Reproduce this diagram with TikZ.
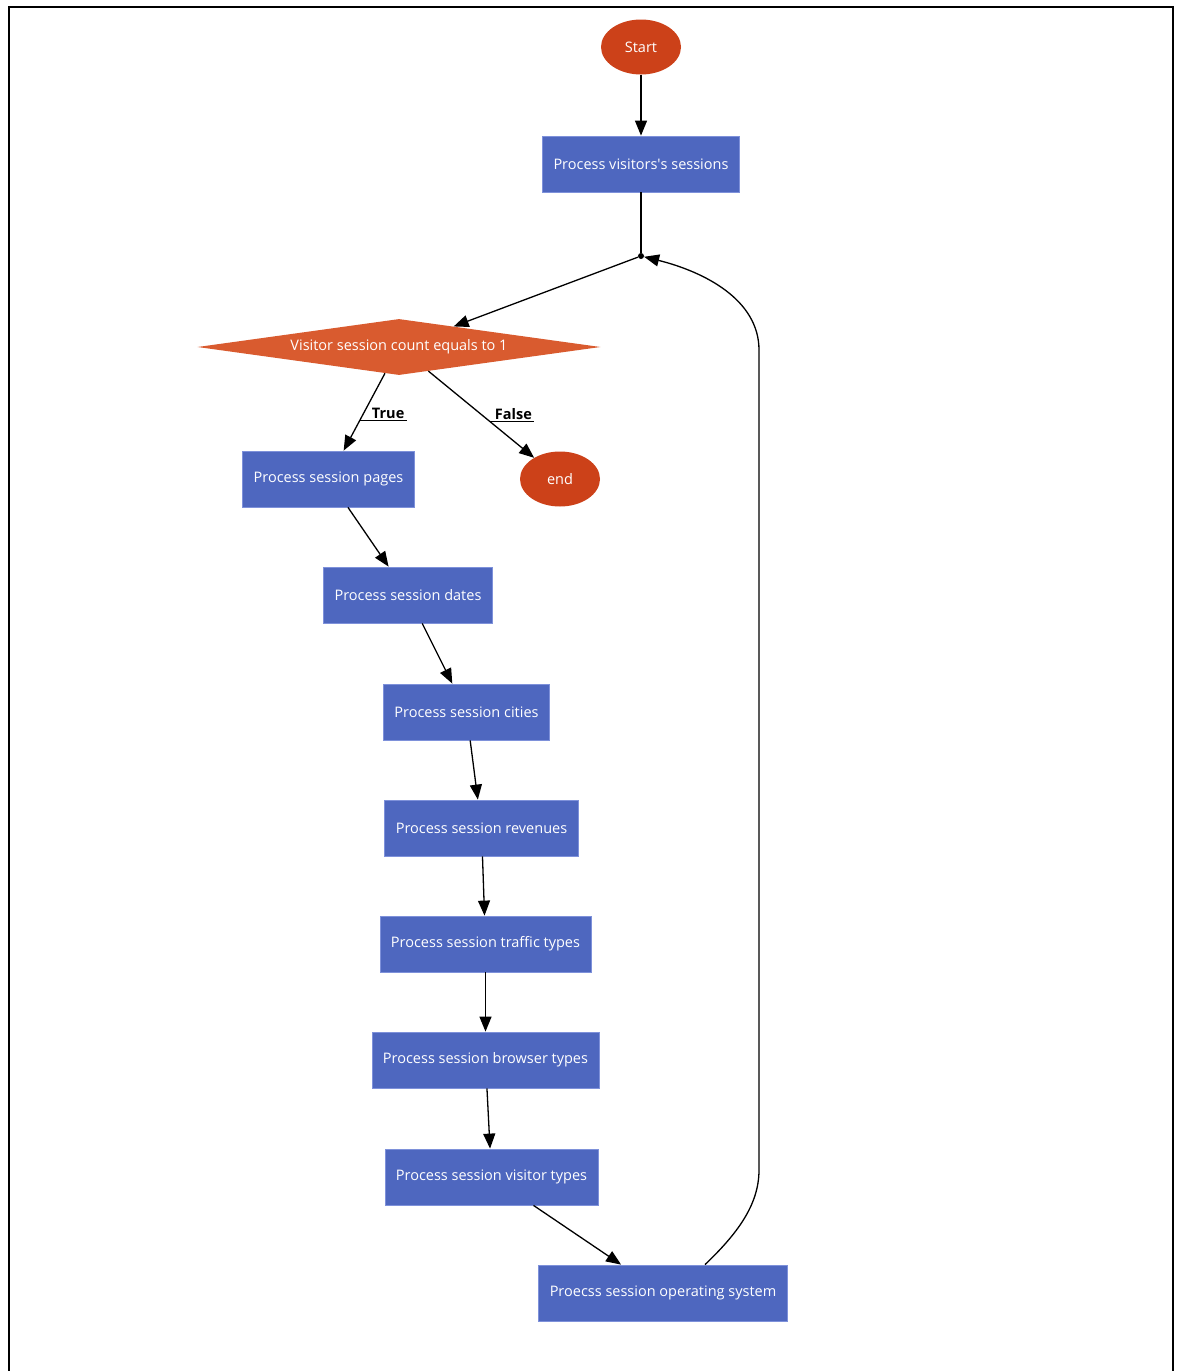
\documentclass[tikz,border=0pt]{standalone}
\usepackage{fontspec}
\setmainfont{Open Sans}
\usetikzlibrary{shapes.geometric,arrows.meta}
\definecolor{boxblue}{HTML}{4E67BF}
\definecolor{boxline}{HTML}{7E91DA}
\definecolor{termred}{HTML}{CC4119}
\definecolor{condorange}{HTML}{D95B2F}
\begin{document}
\begin{tikzpicture}[x=1pt,y=-1pt,
	font=\fontsize{14.5}{17}\selectfont,
	task/.style={rectangle, fill=boxblue, draw=boxline, line width=0.8pt, text=white, minimum height=56pt, inner xsep=11pt},
	term/.style={ellipse, fill=termred, text=white, minimum width=80pt, minimum height=55pt, inner sep=0pt},
	cond/.style={diamond, fill=condorange, text=white, aspect=7.2, minimum width=403pt, minimum height=56pt, inner sep=0pt},
	dot/.style={circle, fill=black, inner sep=0pt, minimum size=6pt},
	arr/.style={-{Triangle[length=15pt,width=12pt]}, line width=1.3pt},
	lbl/.style={font=\fontsize{14.5}{17}\selectfont\bfseries, inner sep=2pt}]
	\useasboundingbox (0,0) rectangle (1180,1371);
	\draw[line width=2pt] (9,1371) -- (9,7) -- (1173,7) -- (1173,1371);
	% nodes
	\node[term] (start) at (641,47) {Start};
	\node[task] (sessions) at (641,164) {Process visitors\textquotesingle s sessions};
	\node[dot] (join) at (641,256) {};
	\node[cond] (check) at (399,347) {Visitor session count equals to 1};
	\node[task] (pages) at (328.5,479) {Process session pages};
	\node[term] (stop) at (560,479) {end};
	\node[task] (dates) at (408,595) {Process session dates};
	\node[task] (cities) at (466.5,712) {Process session cities};
	\node[task] (revenues) at (481.5,828) {Process session revenues};
	\node[task] (traffic) at (485.5,944) {Process session traffic types};
	\node[task] (browser) at (485.5,1060) {Process session browser types};
	\node[task] (visitor) at (491.5,1177) {Process session visitor types};
	\node[task] (os) at (663,1293) {Proecss session operating system};
	% edges
	\draw[arr] (start) -- (sessions);
	\draw[line width=1.3pt] (sessions) -- (join);
	\draw[arr] (join) -- (check);
	\draw[arr] (check) -- coordinate[pos=0.61] (tc) (pages);
	\draw[arr] (check) -- coordinate[pos=0.58] (fc) (stop);
	\node[lbl, anchor=south west, xshift=10pt] (tlab) at (tc) {True};
	\draw[line width=1pt] (tc) -- (tlab.south east);
	\node[lbl, anchor=south west, xshift=3pt] (flab) at (fc) {False};
	\draw[line width=1pt] (fc) -- (flab.south east);
	\draw[arr] (pages) -- (dates);
	\draw[arr] (dates) -- (cities);
	\draw[arr] (cities) -- (revenues);
	\draw[arr] (revenues) -- (traffic);
	\draw[arr] (traffic) -- (browser);
	\draw[arr] (browser) -- (visitor);
	\draw[arr] (visitor) -- (os);
	\draw[arr] ([xshift=42pt]os.north) .. controls (737,1234) and (759,1205) .. (759,1170) -- (759,350) .. controls (759,300) and (705,272) .. (join);
\end{tikzpicture}
\end{document}
